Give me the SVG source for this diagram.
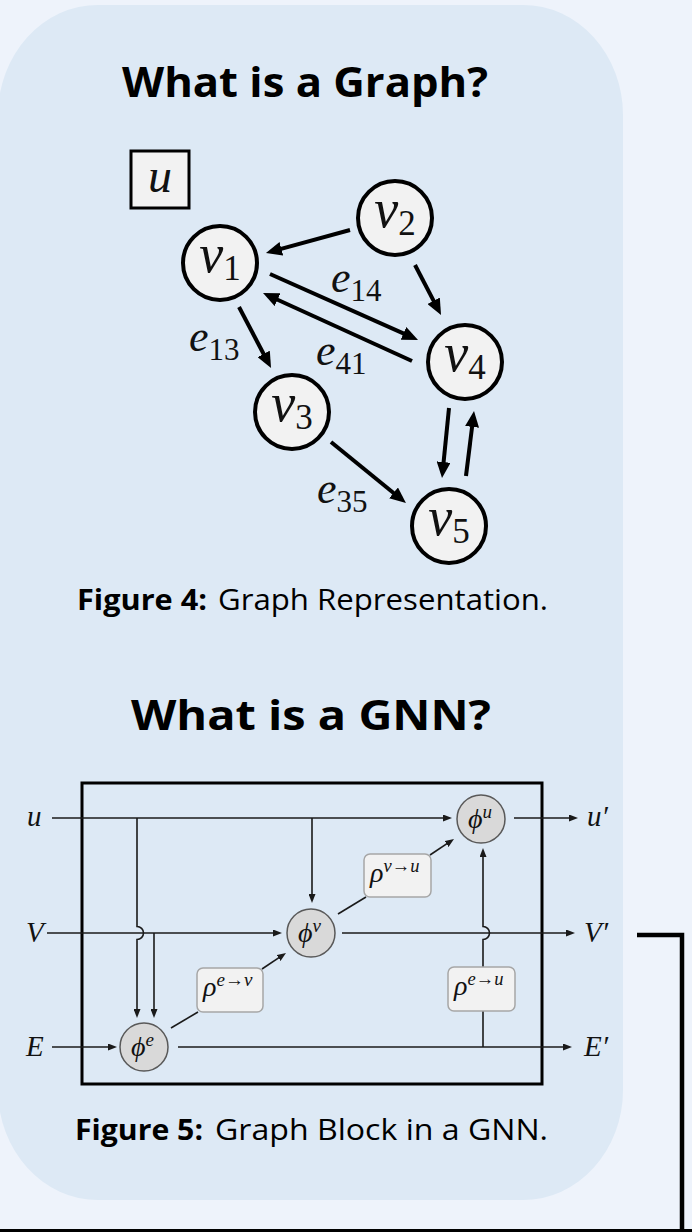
<svg xmlns="http://www.w3.org/2000/svg" width="692" height="1232" viewBox="0 0 692 1232">
<defs>
<style>
.title{font-family:"Open Sans","Liberation Sans",sans-serif;font-weight:700;font-size:42px;fill:#000}
.cap{font-family:"Open Sans","Liberation Sans",sans-serif;font-size:29px;fill:#000}
.capb{font-weight:700}
.math{font-family:"Liberation Serif","DejaVu Serif",serif;fill:#111}
.it{font-style:italic}
.node{fill:#f2f2f2;stroke:#000;stroke-width:4}
.edge{stroke:#000;stroke-width:4;fill:none;marker-end:url(#ah)}
.op{fill:#d9d9d9;stroke:#595959;stroke-width:1.5}
.agg{fill:#f2f2f2;stroke:#a6a6a6;stroke-width:1.5}
.ln{stroke:#1a1a1a;stroke-width:1.6;fill:none}
.la{stroke:#1a1a1a;stroke-width:1.6;fill:none;marker-end:url(#as)}
</style>
<marker id="ah" markerUnits="userSpaceOnUse" markerWidth="16" markerHeight="14" refX="6" refY="7" orient="auto">
<path d="M0,0 L16,7 L0,14 z" fill="#000"/>
</marker>
<marker id="as" markerUnits="userSpaceOnUse" markerWidth="9" markerHeight="7" refX="5" refY="3.5" orient="auto">
<path d="M0,0 L9,3.5 L0,7 z" fill="#1a1a1a"/>
</marker>
</defs>
<rect x="0" y="0" width="692" height="1232" fill="#eef3fb"/>
<rect id="panel" x="-2" y="5" width="625" height="1195" rx="100" ry="110" fill="#dde9f5"/>

<text class="title" x="122" y="97" textLength="366" lengthAdjust="spacingAndGlyphs">What is a Graph?</text>

<g id="node-u">
<rect x="131" y="151" width="58" height="57" fill="#f2f2f2" stroke="#000" stroke-width="3"/>
<text class="math it" x="160" y="192" font-size="48" text-anchor="middle">u</text>
</g>
<g id="node-v1"><circle class="node" cx="220" cy="263" r="37"/>
<text class="math" x="220" y="272" font-size="54" text-anchor="middle"><tspan class="it">v</tspan><tspan font-size="35" dy="8">1</tspan></text></g>
<g id="node-v2"><circle class="node" cx="395" cy="218" r="37"/>
<text class="math" x="395" y="227" font-size="54" text-anchor="middle"><tspan class="it">v</tspan><tspan font-size="35" dy="8">2</tspan></text></g>
<g id="node-v3"><circle class="node" cx="292" cy="412" r="37"/>
<text class="math" x="292" y="421" font-size="54" text-anchor="middle"><tspan class="it">v</tspan><tspan font-size="35" dy="8">3</tspan></text></g>
<g id="node-v4"><circle class="node" cx="465" cy="362" r="37"/>
<text class="math" x="465" y="371" font-size="54" text-anchor="middle"><tspan class="it">v</tspan><tspan font-size="35" dy="8">4</tspan></text></g>
<g id="node-v5"><circle class="node" cx="449" cy="526" r="37"/>
<text class="math" x="449" y="535" font-size="54" text-anchor="middle"><tspan class="it">v</tspan><tspan font-size="35" dy="8">5</tspan></text></g>

<g id="graph-edges">
<line class="edge" x1="350" y1="230" x2="275.6" y2="250.4"/>
<line class="edge" x1="415" y1="265" x2="436.4" y2="306.1"/>
<line class="edge" x1="270" y1="274" x2="408.9" y2="335.9"/>
<line class="edge" x1="412" y1="361" x2="272.1" y2="297.2"/>
<line class="edge" x1="239" y1="307" x2="266.4" y2="359.2"/>
<line class="edge" x1="331" y1="442" x2="398.2" y2="496.7"/>
<line class="edge" x1="449" y1="408" x2="443" y2="468"/>
<line class="edge" x1="466" y1="476" x2="472.8" y2="420.9"/>
</g>
<g id="edge-labels">
<text class="math" x="331" y="292" font-size="44"><tspan class="it">e</tspan><tspan font-size="31" dy="9">14</tspan></text>
<text class="math" x="189" y="351" font-size="44"><tspan class="it">e</tspan><tspan font-size="31" dy="9">13</tspan></text>
<text class="math" x="316" y="365" font-size="44"><tspan class="it">e</tspan><tspan font-size="31" dy="9">41</tspan></text>
<text class="math" x="317" y="503" font-size="44"><tspan class="it">e</tspan><tspan font-size="31" dy="9">35</tspan></text>
</g>

<text class="cap" y="610"><tspan class="capb" x="77" textLength="130" lengthAdjust="spacingAndGlyphs">Figure 4:</tspan><tspan x="218" textLength="330" lengthAdjust="spacingAndGlyphs">Graph Representation.</tspan></text>

<text class="title" x="131" y="730" textLength="360" lengthAdjust="spacingAndGlyphs">What is a GNN?</text>

<g id="graph-block">
<rect x="82" y="783" width="460" height="301" fill="none" stroke="#000" stroke-width="3"/>
</g>

<g id="gnn-connectors">
<path class="la" d="M52,818 H448"/>
<path class="la" d="M514,818 H574"/>
<path class="la" d="M47,933 H278"/>
<path class="la" d="M342,933 H571"/>
<path class="la" d="M52,1047 H113"/>
<path class="la" d="M178,1047 H568"/>
<path class="la" d="M137,818 V926.5 a6.5,6.5 0 0 1 0,13 V1014"/>
<path class="la" d="M154,933 V1014"/>
<path class="la" d="M312,818 V899"/>
<path class="ln" d="M483,1047 V1011"/>
<path class="la" d="M483,967 V939.5 a6.5,6.5 0 0 0 0,-13 V852"/>
<path class="ln" d="M338,914 L366,897"/>
<path class="la" d="M430,855 L450.7,841.2"/>
<path class="ln" d="M171,1028 L198,1012"/>
<path class="la" d="M262,969 L282.7,955.2"/>
</g>

<g id="io-labels" class="math it" font-size="29">
<text x="27" y="826">u</text>
<text x="26" y="942">V</text>
<text x="26" y="1056">E</text>
<text x="587" y="826">u′</text>
<text x="584" y="942">V′</text>
<text x="584" y="1056">E′</text>
</g>

<g id="phi-u"><circle class="op" cx="481" cy="819" r="24"/>
<text class="math" x="468" y="828" font-size="28"><tspan class="it">ϕ</tspan><tspan class="it" font-size="19" dy="-10">u</tspan></text></g>
<g id="phi-v"><circle class="op" cx="311" cy="933" r="24"/>
<text class="math" x="298" y="942" font-size="28"><tspan class="it">ϕ</tspan><tspan class="it" font-size="19" dy="-10">v</tspan></text></g>
<g id="phi-e"><circle class="op" cx="144" cy="1047" r="24"/>
<text class="math" x="131" y="1056" font-size="28"><tspan class="it">ϕ</tspan><tspan class="it" font-size="19" dy="-10">e</tspan></text></g>

<g id="rho-vu"><rect class="agg" x="364" y="854" width="67" height="43" rx="6"/>
<text class="math" x="370" y="882" font-size="28"><tspan class="it">ρ</tspan><tspan class="it" font-size="19" dy="-10" textLength="36" lengthAdjust="spacingAndGlyphs">v→u</tspan></text></g>
<g id="rho-ev"><rect class="agg" x="197" y="968" width="66" height="44" rx="6"/>
<text class="math" x="203" y="996" font-size="28"><tspan class="it">ρ</tspan><tspan class="it" font-size="19" dy="-10" textLength="36" lengthAdjust="spacingAndGlyphs">e→v</tspan></text></g>
<g id="rho-eu"><rect class="agg" x="448" y="967" width="67" height="44" rx="6"/>
<text class="math" x="454" y="995" font-size="28"><tspan class="it">ρ</tspan><tspan class="it" font-size="19" dy="-10" textLength="36" lengthAdjust="spacingAndGlyphs">e→u</tspan></text></g>

<text class="cap" y="1140"><tspan class="capb" x="75" textLength="128" lengthAdjust="spacingAndGlyphs">Figure 5:</tspan><tspan x="215" textLength="333" lengthAdjust="spacingAndGlyphs">Graph Block in a GNN.</tspan></text>

<g id="frame-lines" fill="none" stroke="#000">
<path d="M637,935 H682 V1232" stroke-width="4.5"/>
<line x1="0" y1="1230.5" x2="692" y2="1230.5" stroke-width="3"/>
</g>
</svg>
